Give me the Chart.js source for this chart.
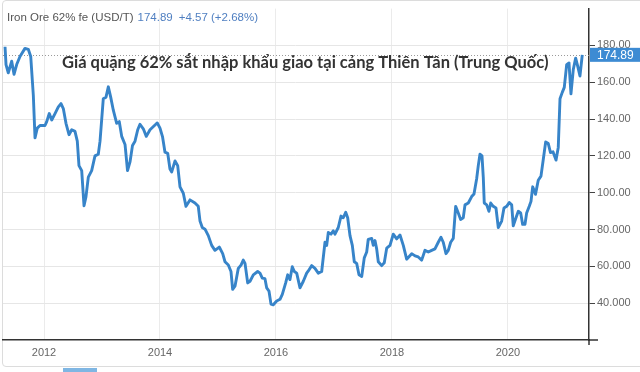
<!DOCTYPE html>
<html>
<head>
<meta charset="utf-8">
<script src="https://cdn.jsdelivr.net/npm/chart.js@4/dist/chart.umd.min.js"></script>
<style>
  html, body { margin: 0; padding: 0; background: #fff; }
  #wrap { position: relative; width: 640px; height: 372px; overflow: hidden; }
  #frame { position: absolute; left: 2px; top: 0; width: 650px; height: 367px; border: 1px solid #dcdcdc; border-radius: 4px; box-sizing: border-box; }
  #tab { position: absolute; left: 63px; top: 368px; width: 34px; height: 4px; background: #7fb6e3; }
  canvas { position: absolute; left: 0; top: 0; }
</style>
</head>
<body>
<div id="wrap">
  <div id="frame"></div>
  <div id="tab"></div>
  <canvas id="c" width="640" height="372"></canvas>
</div>
<script>
// ---- data (decimal years, USD/T) ----
const DATES = [
  2011.328, 2011.345, 2011.384, 2011.443, 2011.483, 2011.529, 2011.586, 2011.672, 2011.729, 2011.771,
  2011.816, 2011.845, 2011.884, 2011.931, 2012.017, 2012.047, 2012.091, 2012.133, 2012.190, 2012.247,
  2012.293, 2012.333, 2012.379, 2012.431, 2012.478, 2012.534, 2012.574, 2012.603, 2012.650, 2012.690,
  2012.724, 2012.764, 2012.822, 2012.879, 2012.936, 2012.966, 2013.022, 2013.069, 2013.109, 2013.150,
  2013.195, 2013.253, 2013.298, 2013.340, 2013.397, 2013.440, 2013.483, 2013.526, 2013.569, 2013.616,
  2013.655, 2013.712, 2013.764, 2013.828, 2013.914, 2013.953, 2014.000, 2014.043, 2014.086, 2014.133,
  2014.172, 2014.202, 2014.259, 2014.305, 2014.345, 2014.402, 2014.448, 2014.517, 2014.603, 2014.660,
  2014.690, 2014.729, 2014.776, 2014.833, 2014.891, 2014.948, 2015.022, 2015.081, 2015.121, 2015.178,
  2015.224, 2015.253, 2015.293, 2015.350, 2015.397, 2015.436, 2015.466, 2015.512, 2015.552, 2015.609,
  2015.684, 2015.724, 2015.764, 2015.810, 2015.840, 2015.879, 2015.914, 2015.953, 2016.012, 2016.069,
  2016.109, 2016.167, 2016.202, 2016.241, 2016.281, 2016.316, 2016.357, 2016.414, 2016.471, 2016.529,
  2016.557, 2016.616, 2016.672, 2016.729, 2016.788, 2016.845, 2016.874, 2016.902, 2016.948, 2016.988,
  2017.017, 2017.074, 2017.121, 2017.160, 2017.202, 2017.236, 2017.276, 2017.316, 2017.350, 2017.391,
  2017.431, 2017.478, 2017.522, 2017.564, 2017.591, 2017.650, 2017.678, 2017.707, 2017.736, 2017.764,
  2017.822, 2017.867, 2017.909, 2017.966, 2018.022, 2018.081, 2018.138, 2018.195, 2018.253, 2018.340,
  2018.397, 2018.453, 2018.512, 2018.569, 2018.626, 2018.684, 2018.741, 2018.798, 2018.845, 2018.884,
  2018.931, 2018.971, 2019.012, 2019.057, 2019.098, 2019.143, 2019.184, 2019.229, 2019.259, 2019.316,
  2019.374, 2019.414, 2019.460, 2019.488, 2019.517, 2019.552, 2019.574, 2019.591, 2019.633, 2019.672,
  2019.702, 2019.746, 2019.793, 2019.833, 2019.891, 2019.931, 2019.978, 2020.022, 2020.064, 2020.091,
  2020.138, 2020.178, 2020.219, 2020.253, 2020.293, 2020.322, 2020.367, 2020.397, 2020.426, 2020.474,
  2020.522, 2020.569, 2020.609, 2020.650, 2020.695, 2020.733, 2020.776, 2020.828, 2020.867, 2020.897,
  2020.936, 2020.971, 2021.012, 2021.052, 2021.086, 2021.126, 2021.167, 2021.202, 2021.241, 2021.281
];
const PRICES = [
  179.3, 169.6, 165.1, 171.4, 164.3, 169.6, 174.0, 178.4, 177.9, 174.0,
  152.8, 129.8, 135.1, 136.5, 136.5, 138.6, 143.0, 139.5, 143.0, 146.6,
  148.4, 145.7, 137.7, 131.5, 134.2, 133.3, 128.0, 114.7, 112.0, 92.9,
  97.9, 108.5, 112.0, 120.0, 120.9, 128.0, 151.0, 151.9, 157.5, 151.9,
  144.8, 137.7, 138.6, 130.6, 126.2, 112.0, 116.7, 125.7, 128.0, 134.2,
  137.2, 134.7, 130.6, 134.2, 136.8, 137.9, 135.1, 130.5, 122.0, 121.4,
  112.9, 111.3, 117.3, 114.7, 103.2, 99.7, 92.6, 96.1, 94.4, 92.6,
  84.6, 81.1, 80.2, 76.7, 71.4, 68.7, 70.5, 66.9, 62.5, 60.7,
  57.2, 47.5, 49.2, 58.9, 60.7, 63.4, 61.6, 51.0, 51.9, 55.4,
  57.2, 56.3, 53.6, 53.3, 48.3, 46.6, 39.5, 39.1, 41.2, 42.1,
  44.8, 51.0, 55.4, 52.8, 59.8, 57.2, 56.3, 48.3, 51.9, 56.3,
  57.5, 60.4, 58.9, 56.3, 57.2, 73.1, 71.4, 78.4, 77.5, 79.3,
  77.5, 81.1, 87.3, 86.4, 89.4, 86.4, 76.7, 71.4, 62.5, 61.6,
  55.4, 54.5, 64.6, 67.8, 74.7, 75.2, 71.4, 74.0, 69.5, 62.5,
  60.4, 62.0, 69.9, 71.4, 77.5, 74.9, 77.0, 71.4, 63.9, 66.9,
  65.7, 65.1, 63.4, 68.7, 67.8, 68.7, 69.5, 73.1, 75.8, 73.1,
  66.9, 68.7, 73.1, 75.2, 92.6, 89.0, 85.5, 86.4, 93.4, 94.4,
  97.9, 99.3, 107.6, 114.7, 120.9, 120.0, 108.5, 94.4, 93.4, 89.9,
  94.4, 92.6, 91.7, 81.1, 84.6, 91.7, 92.6, 94.7, 93.4, 82.0,
  86.4, 89.9, 89.0, 82.8, 82.8, 89.0, 92.6, 95.3, 103.2, 99.1,
  106.8, 109.0, 118.2, 127.6, 126.7, 121.8, 122.2, 117.7, 124.6, 151.0,
  154.5, 157.2, 169.6, 170.5, 153.7, 166.9, 173.1, 168.7, 163.4, 174.89
];
const X_TICKS = [2012, 2014, 2016, 2018, 2020];
const X_TICK_LABELS = ['2012', '2014', '2016', '2018', '2020'];
const Y_TICKS = [40, 60, 80, 100, 120, 140, 160, 180];
const Y_TICK_LABELS = ['40.000', '60.000', '80.000', '100.00', '120.00', '140.00', '160.00', '180.00'];
const HEADER_NAME = 'Iron Ore 62% fe (USD/T)';
const LAST_PRICE = '174.89';
const CHANGE_TEXT = '+4.57 (+2.68%)';
const TITLE = 'Giá quặng 62% sắt nhập khẩu giao tại cảng Thiên Tân (Trung Quốc)';

const FONT = '"Liberation Sans", Arial, sans-serif';
const LINE_COLOR = '#3784c9';

const overlay = {
  id: 'overlay',
  beforeDatasetsDraw(chart) {
    const ctx = chart.ctx, a = chart.chartArea;
    const yS = chart.scales.y;
    const last = PRICES[PRICES.length - 1];
    const py = Math.round(yS.getPixelForValue(last)) + 0.5;
    ctx.save();
    ctx.strokeStyle = '#9a9a9a';
    ctx.lineWidth = 1;
    ctx.setLineDash([1, 2]);
    ctx.beginPath();
    ctx.moveTo(a.left, py);
    ctx.lineTo(a.right, py);
    ctx.stroke();
    ctx.restore();
  },
  afterDraw(chart) {
    const ctx = chart.ctx, a = chart.chartArea;
    const yS = chart.scales.y;
    const last = PRICES[PRICES.length - 1];
    const py = yS.getPixelForValue(last);
    ctx.save();
    // axis extensions
    ctx.strokeStyle = '#333';
    ctx.lineWidth = 1.5;
    ctx.beginPath();
    ctx.moveTo(a.right, a.bottom);
    ctx.lineTo(a.right + 9, a.bottom);
    ctx.moveTo(a.right, a.bottom);
    ctx.lineTo(a.right, a.bottom + 5);
    ctx.stroke();
    // last price box
    ctx.fillStyle = '#3d8bd3';
    ctx.fillRect(a.right + 1, py - 7, 640 - a.right, 14);
    ctx.fillStyle = '#fff';
    ctx.font = '12px ' + FONT;
    ctx.textBaseline = 'middle';
    ctx.textAlign = 'left';
    ctx.fillText(LAST_PRICE, a.right + 8, py + 0.5);
    // header
    ctx.textBaseline = 'alphabetic';
    ctx.font = '11.5px ' + FONT;
    ctx.fillStyle = '#555';
    let x = 7;
    ctx.fillText(HEADER_NAME, x, 20.5);
    x += ctx.measureText(HEADER_NAME).width + 4;
    ctx.fillStyle = '#4f7fc1';
    ctx.fillText(LAST_PRICE, x, 20.5);
    x += ctx.measureText(LAST_PRICE).width + 6;
    ctx.fillText(CHANGE_TEXT, x, 20.5);
    // title, fitted to width
    const targetW = 487;
    let fs = 16;
    ctx.font = 'bold ' + fs + 'px Lato, "Open Sans", sans-serif';
    fs = fs * targetW / ctx.measureText(TITLE).width;
    ctx.font = 'bold ' + fs.toFixed(2) + 'px Lato, "Open Sans", sans-serif';
    ctx.fillStyle = '#333';
    ctx.fillText(TITLE, 62, 67.5);
    ctx.restore();
  }
};

new Chart(document.getElementById('c'), {
  type: 'line',
  data: {
    datasets: [{
      data: DATES.map((d, i) => ({ x: d, y: PRICES[i] })),
      borderColor: LINE_COLOR,
      borderWidth: 2.9,
      borderJoinStyle: 'round',
      pointRadius: 0,
      tension: 0,
      fill: false
    }]
  },
  options: {
    responsive: false,
    animation: false,
    devicePixelRatio: 1,
    layout: { padding: { left: 3, top: 1, right: 0, bottom: 0 } },
    plugins: { legend: { display: false }, tooltip: { enabled: false }, title: { display: false } },
    scales: {
      x: {
        type: 'linear',
        min: 2011.293,
        max: 2021.397,
        afterBuildTicks: s => { s.ticks = X_TICKS.map(v => ({ value: v })); },
        afterFit: s => { s.height = 32; },
        grid: { color: '#ebebeb', lineWidth: 1, drawTicks: false },
        border: { color: '#333', width: 1.5 },
        ticks: {
          padding: 6,
          color: '#666',
          font: { family: FONT, size: 11 },
          maxRotation: 0,
          callback: v => X_TICK_LABELS[X_TICKS.indexOf(v)]
        }
      },
      y: {
        position: 'right',
        min: 20,
        max: 200,
        afterBuildTicks: s => { s.ticks = Y_TICKS.map(v => ({ value: v })); },
        afterFit: s => { s.width = 51; },
        grid: { color: '#e6e6e6', lineWidth: 1, tickLength: 6, tickColor: '#444', drawTicks: true },
        border: { color: '#333', width: 1.5 },
        ticks: {
          padding: 2,
          color: '#666',
          font: { family: FONT, size: 11 },
          callback: v => Y_TICK_LABELS[Y_TICKS.indexOf(v)]
        }
      }
    }
  },
  plugins: [overlay]
});
</script>
</body>
</html>
